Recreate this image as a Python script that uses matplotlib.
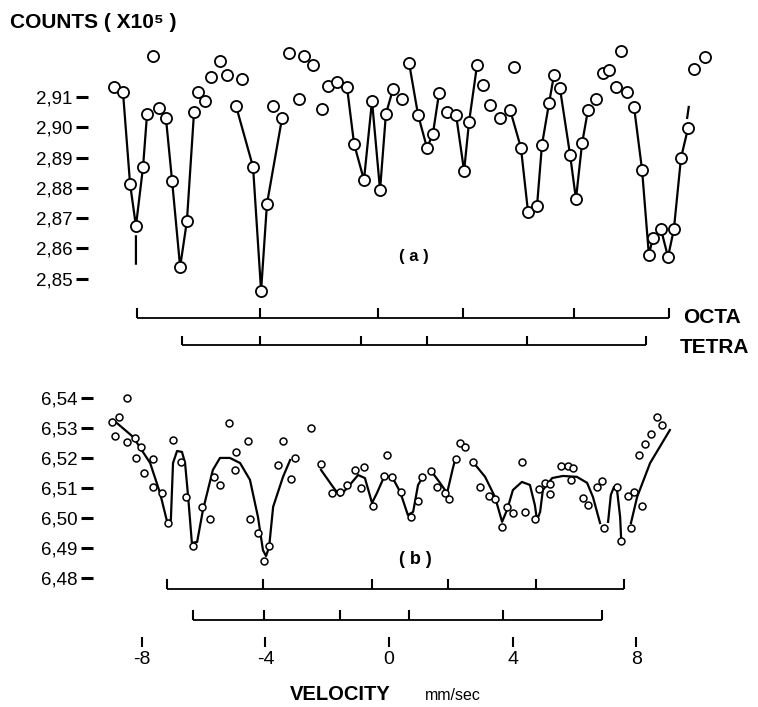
import numpy as np
import matplotlib
matplotlib.use("Agg")
import matplotlib.pyplot as plt

plt.rcParams['font.family'] = ['Liberation Sans', 'DejaVu Sans']

# ---- panel (a): counts (x10^5) vs velocity (mm/sec)
vel_a = [-8.90, -8.61, -8.38, -8.19, -7.96, -7.83, -7.64, -7.44, -7.22, -7.02,
         -6.76, -6.54, -6.31, -6.18, -5.95, -5.76, -5.47, -5.24, -4.95, -4.76,
         -4.40, -4.14, -3.95, -3.75, -3.46, -3.24, -2.91, -2.75, -2.46, -2.17,
         -1.97, -1.68, -1.36, -1.13, -0.81, -0.55, -0.29, -0.10, 0.13, 0.42,
         0.65, 0.94, 1.23, 1.42, 1.62, 1.88, 2.17, 2.43, 2.59, 2.85,
         3.04, 3.27, 3.59, 3.92, 4.05, 4.27, 4.50, 4.79, 4.95, 5.18,
         5.34, 5.53, 5.86, 6.05, 6.25, 6.44, 6.70, 6.93, 7.12, 7.35,
         7.51, 7.70, 7.93, 8.19, 8.41, 8.54, 8.80, 9.03, 9.22, 9.45,
         9.68, 9.87, 10.23]
counts_a = [2.9133, 2.9117, 2.8813, 2.8674, 2.8869, 2.9044, 2.9235, 2.9064, 2.9031, 2.8823,
            2.8539, 2.8691, 2.9050, 2.9117, 2.9087, 2.9166, 2.9219, 2.9173, 2.9070, 2.9159,
            2.8869, 2.8460, 2.8747, 2.9070, 2.9031, 2.9245, 2.9093, 2.9235, 2.9206, 2.9060,
            2.9136, 2.9150, 2.9133, 2.8945, 2.8826, 2.9087, 2.8793, 2.9044, 2.9126, 2.9093,
            2.9212, 2.9041, 2.8932, 2.8978, 2.9113, 2.9050, 2.9041, 2.8856, 2.9017, 2.9206,
            2.9140, 2.9074, 2.9031, 2.9057, 2.9199, 2.8932, 2.8720, 2.8740, 2.8942, 2.9080,
            2.9173, 2.9130, 2.8909, 2.8763, 2.8948, 2.9057, 2.9093, 2.9179, 2.9189, 2.9133,
            2.9252, 2.9117, 2.9067, 2.8859, 2.8579, 2.8635, 2.8664, 2.8572, 2.8664, 2.8899,
            2.8998, 2.9192, 2.9232]

# hand drawn curve pieces of (a), nan = pen lifted
fit_a_v = [-8.61, -8.38, -8.19, np.nan, -8.19, -8.19, np.nan, -8.19, -7.96, -7.83, np.nan,
           -7.22, -7.02, -6.76, -6.54, -6.31, np.nan,
           -4.95, -4.40, -4.14, -3.95, -3.46, np.nan,
           -1.36, -1.13, -0.81, -0.55, -0.29, -0.10, 0.13, np.nan,
           0.65, 0.94, 1.23, 1.42, 1.62, np.nan,
           2.17, 2.43, 2.59, 2.85, np.nan,
           3.92, 4.27, 4.50, 4.79, 4.95, 5.18, 5.34, np.nan,
           5.53, 5.86, 6.05, 6.25, 6.44, np.nan,
           7.93, 8.19, 8.41, 8.54, 8.80, 9.03, 9.22, 9.45, 9.68, np.nan,
           9.65, 9.70]
fit_a_c = [2.9117, 2.8813, 2.8674, np.nan, 2.864, 2.855, np.nan, 2.8674, 2.8869, 2.9044, np.nan,
           2.9031, 2.8823, 2.8539, 2.8691, 2.9050, np.nan,
           2.9070, 2.8869, 2.8460, 2.8747, 2.9031, np.nan,
           2.9133, 2.8945, 2.8826, 2.9087, 2.8793, 2.9044, 2.9126, np.nan,
           2.9212, 2.9041, 2.8932, 2.8978, 2.9113, np.nan,
           2.9041, 2.8856, 2.9017, 2.9206, np.nan,
           2.9057, 2.8932, 2.8720, 2.8740, 2.8942, 2.9080, 2.9173, np.nan,
           2.9130, 2.8909, 2.8763, 2.8948, 2.9057, np.nan,
           2.9067, 2.8859, 2.8579, 2.8635, 2.8664, 2.8572, 2.8664, 2.8899, 2.8998, np.nan,
           2.9031, 2.9067]

octa_a = [-8.16, -4.17, -0.36, 2.39, 5.99, 9.06]
tetra_a = [-6.70, -4.17, -0.91, 1.23, 4.47, 8.32]
yticks_a = [2.85, 2.86, 2.87, 2.88, 2.89, 2.90, 2.91]

# ---- panel (b)
vel_b = [-8.96, -8.87, -8.74, -8.48, -8.48, -8.22, -8.19, -8.03, -7.93, -7.64,
         -7.64, -7.35, -7.15, -6.99, -6.73, -6.57, -6.34, -6.05, -5.79, -5.66,
         -5.47, -5.18, -4.98, -4.95, -4.56, -4.50, -4.24, -4.05, -3.88, -3.59,
         -3.43, -3.17, -3.04, -2.52, -2.20, -1.84, -1.59, -1.36, -1.10, -0.91,
         -0.81, -0.52, -0.16, -0.06, 0.10, 0.39, 0.71, 0.94, 1.07, 1.36,
         1.55, 1.81, 1.94, 2.17, 2.30, 2.46, 2.72, 2.94, 3.24, 3.43,
         3.66, 3.82, 4.01, 4.30, 4.40, 4.72, 4.85, 5.05, 5.21, 5.21,
         5.57, 5.79, 5.89, 5.95, 6.28, 6.44, 6.73, 6.89, 6.96, 7.38,
         7.51, 7.73, 7.83, 7.93, 8.09, 8.19, 8.28, 8.48, 8.67, 8.83]
counts_b = [6.5320, 6.5273, 6.5337, 6.5400, 6.5253, 6.5267, 6.5200, 6.5237, 6.5150, 6.5197,
            6.5103, 6.5083, 6.4983, 6.5260, 6.5187, 6.5070, 6.4907, 6.5037, 6.4997, 6.5137,
            6.5110, 6.5317, 6.5160, 6.5220, 6.5257, 6.4997, 6.4950, 6.4857, 6.4907, 6.5177,
            6.5257, 6.5130, 6.5200, 6.5300, 6.5180, 6.5083, 6.5087, 6.5110, 6.5160, 6.5100,
            6.5170, 6.5040, 6.5140, 6.5210, 6.5137, 6.5087, 6.5003, 6.5057, 6.5137, 6.5157,
            6.5103, 6.5083, 6.5063, 6.5197, 6.5250, 6.5237, 6.5187, 6.5103, 6.5073, 6.5063,
            6.4970, 6.5037, 6.5017, 6.5187, 6.5020, 6.4997, 6.5097, 6.5117, 6.5113, 6.5080,
            6.5173, 6.5173, 6.5127, 6.5167, 6.5067, 6.5043, 6.5103, 6.5123, 6.4967, 6.5103,
            6.4923, 6.5073, 6.4967, 6.5087, 6.5210, 6.5040, 6.5247, 6.5280, 6.5337, 6.5310]

fit_b_v = [-8.93, -8.28, -7.73, -7.41, -7.18, -7.06, -6.99, -6.86, -6.70, -6.60, -6.50, -6.38,
           -6.21, -6.02, -5.70, -5.47, -5.15, -4.82, -4.50, -4.24, -4.08, -3.98, -3.88, -3.75,
           -3.43, -3.20, np.nan,
           -2.20, -1.81, -1.59, -1.33, -1.00, -0.78, -0.55, -0.39, -0.16, 0.10, 0.36, 0.61,
           0.78, 0.94, 1.10, np.nan,
           1.39, 1.65, 1.88, 2.07, 2.14, np.nan,
           2.69, 3.11, 3.43, 3.66, 3.82, 4.01, 4.30, 4.56, 4.72, 4.79, 4.89, 4.98, 5.28, 5.63,
           6.08, 6.41, 6.60, 6.83, np.nan,
           7.09, 7.18, 7.28, 7.38, 7.48, 7.51, np.nan,
           7.83, 8.03, 8.45, 9.09]
fit_b_c = [6.5327, 6.5270, 6.5183, 6.5083, 6.4987, 6.4993, 6.5183, 6.5223, 6.5220, 6.5183, 6.5070, 6.4917,
           6.4920, 6.5027, 6.5160, 6.5200, 6.5200, 6.5183, 6.5127, 6.5003, 6.4893, 6.4873, 6.4903, 6.5037,
           6.5137, 6.5193, np.nan,
           6.5160, 6.5103, 6.5073, 6.5103, 6.5143, 6.5133, 6.5050, 6.5083, 6.5137, 6.5137, 6.5087, 6.5010,
           6.5020, 6.5110, 6.5137, np.nan,
           6.5153, 6.5117, 6.5083, 6.5167, 6.5193, np.nan,
           6.5190, 6.5137, 6.5070, 6.4987, 6.5027, 6.5093, 6.5120, 6.5110, 6.5043, 6.4993, 6.5020, 6.5093, 6.5133, 6.5140,
           6.5137, 6.5117, 6.5070, 6.4983, np.nan,
           6.4987, 6.5077, 6.5103, 6.5093, 6.5003, 6.4937, np.nan,
           6.4983, 6.5070, 6.5183, 6.5293]

octa_b = [-7.18, -4.08, -0.55, 1.91, 4.76, 7.61]
tetra_b = [-6.34, -4.05, -1.59, 0.65, 3.69, 6.89]
yticks_b = [6.48, 6.49, 6.50, 6.51, 6.52, 6.53, 6.54]
xticks = [-8, -4, 0, 4, 8]


def stick_bar(ax, pos, level, h):
    ax.hlines(level, min(pos), max(pos), color='black', lw=1.3)
    ax.vlines(pos, level, level + h, color='black', lw=1.5)


def style_y(ax, ticks, out):
    for s in ax.spines.values():
        s.set_visible(False)
    ax.spines['left'].set_position(('outward', out))
    ax.set_yticks(ticks)
    ax.set_yticklabels([('%.2f' % t).replace('.', ',') for t in ticks], fontsize=13.5)
    ax.tick_params(axis='y', length=9, width=2.2, pad=2, direction='out')


fig = plt.figure(figsize=(7.58, 7.07), dpi=100)
xlim = (-9.353, 10.712)

ax_a = fig.add_axes([100 / 758, 1 - 360 / 707, 620 / 758, 320 / 707])
ax_a.set_xlim(xlim)
ax_a.set_ylim(2.8232, 2.9288)
ax_a.plot(fit_a_v, fit_a_c, color='black', lw=1.6, zorder=2)
ax_a.plot(vel_a, counts_a, 'o', ms=8, mfc='white', mec='black', mew=1.3, zorder=3)
style_y(ax_a, yticks_a, 8.6)
ax_a.set_xticks([])
stick_bar(ax_a, octa_a, 2.8371, 0.0032)
stick_bar(ax_a, tetra_a, 2.8282, 0.0028)
ax_a.text(9.51, 2.8371, 'OCTA', fontsize=15, fontweight='bold', va='center', ha='left')
ax_a.text(9.42, 2.8272, 'TETRA', fontsize=15, fontweight='bold', va='center', ha='left')
ax_a.text(0.81, 2.8572, '( a )', fontsize=12, fontweight='bold', ha='center', va='center')

ax_b = fig.add_axes([100 / 758, 1 - 647 / 707, 620 / 758, 277 / 707])
ax_b.set_xlim(xlim)
ax_b.set_ylim(6.4570, 6.5493)
ax_b.plot(fit_b_v, fit_b_c, color='black', lw=1.6, zorder=2)
ax_b.plot(vel_b, counts_b, 'o', ms=5, mfc='white', mec='black', mew=1.1, zorder=3)
style_y(ax_b, yticks_b, 5)
stick_bar(ax_b, octa_b, 6.4763, 0.0033)
stick_bar(ax_b, tetra_b, 6.4660, 0.0033)
ax_b.text(0.84, 6.4860, '( b )', fontsize=13, fontweight='bold', ha='center', va='center')
ax_b.set_xticks(xticks)
ax_b.set_xticklabels(['-8', '-4', '0', '4', '8'], fontsize=14)
ax_b.tick_params(axis='x', direction='in', length=7, width=1.5, pad=3)

fig.text(10 / 758, 1 - 23 / 707, 'COUNTS ( X10\u2075 )', fontsize=15, fontweight='bold', va='center', ha='left')
fig.text(290 / 758, 1 - 695 / 707, 'VELOCITY', fontsize=14.5, fontweight='bold', va='center', ha='left')
fig.text(425 / 758, 1 - 696 / 707, 'mm/sec', fontsize=11.5, va='center', ha='left')

fig.savefig('out.png', dpi=100)
